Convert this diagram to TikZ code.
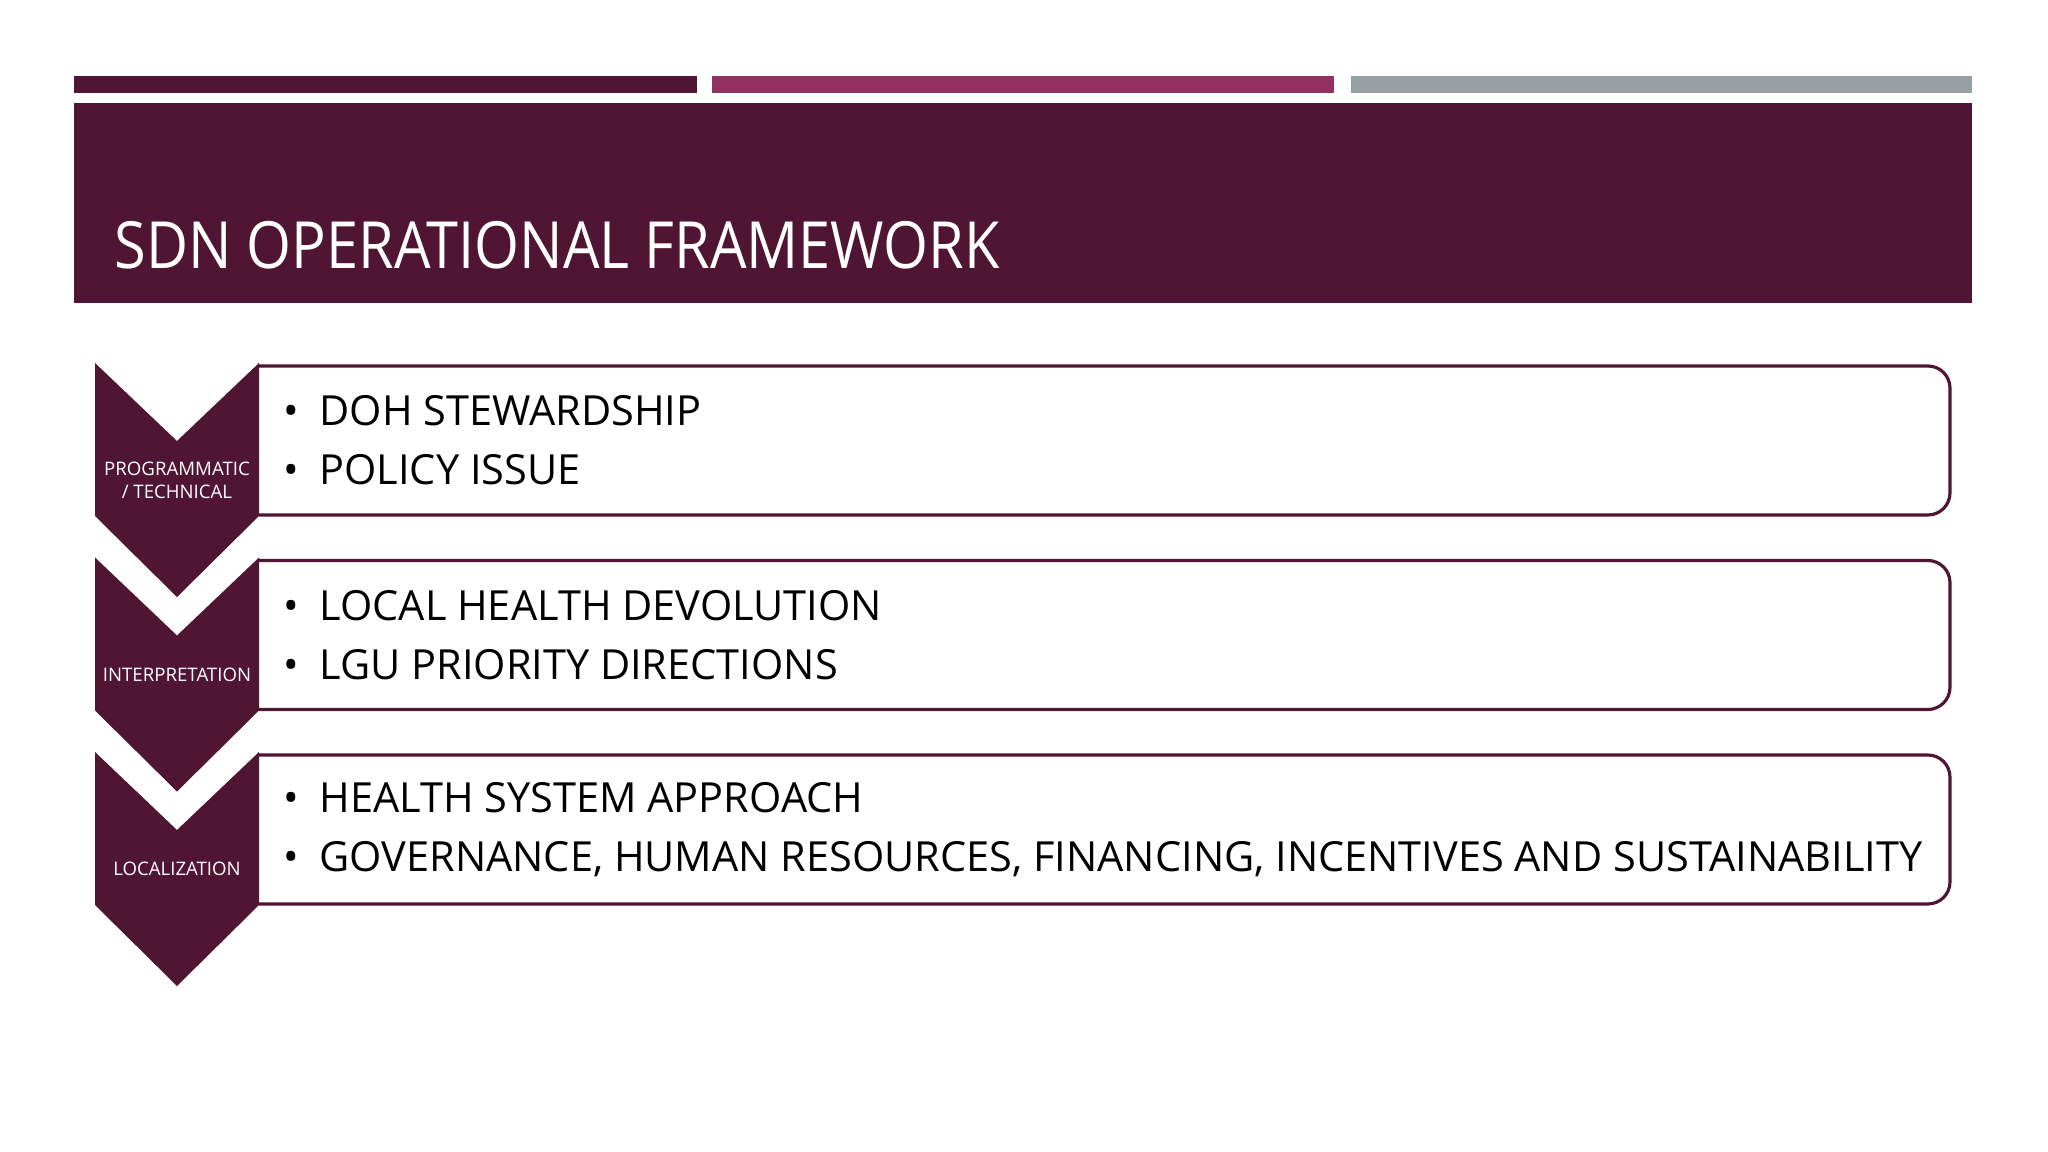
\documentclass[tikz,border=0pt]{standalone}
\usepackage{fontspec}
\setmainfont{Open Sans}
\newfontfamily\titlefont[FakeStretch=0.887]{Open Sans}
\definecolor{wine}{HTML}{501533}
\definecolor{plum}{HTML}{93325F}
\definecolor{slate}{HTML}{969FA2}
\newcommand{\itembul}{\makebox[10.2pt][l]{\textbullet}}
\tikzset{
  chevtext/.style={text=white, align=center, inner sep=0, font=\fontsize{5.3}{6.5}\selectfont},
  listtext/.style={anchor=west, align=left, inner sep=0, font=\fontsize{11.8}{16.8}\selectfont},
  boxline/.style={draw=wine, line width=0.9pt}
}

\begin{document}
\begin{tikzpicture}[x=0.01cm,y=-0.01cm]
\useasboundingbox[fill=white] (0,0) rectangle (2048,1152);
% Colour bars along the top
\fill[wine] (74,76) rectangle (697,93);
\fill[plum] (712,76) rectangle (1334,93);
\fill[slate] (1351,76) rectangle (1972,93);
% Title band
\fill[wine] (74,103) rectangle (1972,303);
\node[anchor=base west, text=white, inner sep=0, font=\titlefont\fontsize{18.5}{22}\selectfont] (title) at (114,269) {SDN OPERATIONAL FRAMEWORK};
% First row: box, then chevron on top of its left end
\draw[boxline] (259,366) [rounded corners=6.3pt] -- (1950,366) -- (1950,515) -- (259,515);
\fill[wine] (95,363) -- (177,441) -- (259,363) -- (259,516) -- (177,597) -- (95,516) -- cycle;
\node[chevtext] (label1) at (177,480) {PROGRAMMATIC\\/ TECHNICAL};
\node[listtext] (items1) at (283,440.5) {\itembul DOH STEWARDSHIP\\\itembul POLICY ISSUE};
% Second row
\draw[boxline] (259,560.5) [rounded corners=6.3pt] -- (1950,560.5) -- (1950,709.5) -- (259,709.5);
\fill[wine] (95,557.5) -- (177,635.5) -- (259,557.5) -- (259,710.5) -- (177,791.5) -- (95,710.5) -- cycle;
\node[chevtext] (label2) at (177,674.5) {INTERPRETATION};
\node[listtext] (items2) at (283,635) {\itembul LOCAL HEALTH DEVOLUTION\\\itembul LGU PRIORITY DIRECTIONS};
% Third row
\draw[boxline] (259,755) [rounded corners=6.3pt] -- (1950,755) -- (1950,904) -- (259,904);
\fill[wine] (95,752) -- (177,830) -- (259,752) -- (259,905) -- (177,986) -- (95,905) -- cycle;
\node[chevtext] (label3) at (177,869) {LOCALIZATION};
\node[listtext] (items3) at (283,829.5) {\itembul HEALTH SYSTEM APPROACH\\\itembul GOVERNANCE, HUMAN RESOURCES, FINANCING, INCENTIVES AND SUSTAINABILITY};
\end{tikzpicture}
\end{document}
